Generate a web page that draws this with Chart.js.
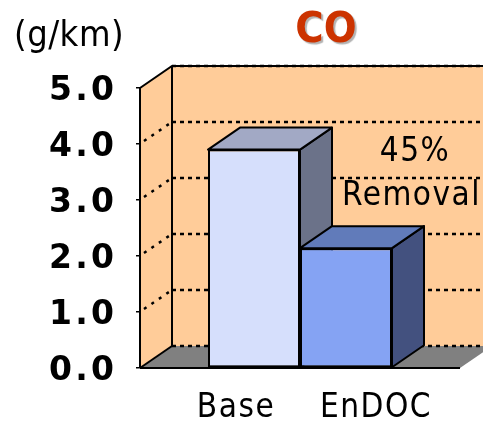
<!DOCTYPE html>
<html>
<head>
<meta charset="utf-8">
<script src="https://cdn.jsdelivr.net/npm/chart.js@4"></script>
<style>
  html, body { margin: 0; padding: 0; background: #ffffff; }
  canvas { display: block; }
</style>
</head>
<body>
<canvas id="chart" width="483" height="421"></canvas>
<script>
// Emission of CO per km, before and after the EnDOC catalyst
const categories = ['CO'];
const seriesNames = ['Base', 'EnDOC'];
const baseValues = [3.9];
const endocValues = [2.14];
const yTickValues = [0, 1, 2, 3, 4, 5];
const unitLabel = '(g/km)';
const titleText = 'CO';
const noteLines = ['45%', 'Removal'];

// Colours: front, top and side faces of each series, walls and floor
const FRONT = ['#D6DFFC', '#85A3F3'];
const TOP = ['#A2A9C5', '#617BBA'];
const SIDE = ['#6B7289', '#43517F'];
const WALL = '#FFCC99';
const FLOOR = '#808080';

const TEXT_FONT = '"DejaVu Sans Condensed", "DejaVu Sans", sans-serif';

// depth of the 3D box (x, y offset of the back plane)
const DX = 32, DY = -22;

function poly(ctx, pts, fill, stroke) {
  ctx.beginPath();
  ctx.moveTo(pts[0][0], pts[0][1]);
  for (let i = 1; i < pts.length; i++) ctx.lineTo(pts[i][0], pts[i][1]);
  ctx.closePath();
  if (fill) { ctx.fillStyle = fill; ctx.fill(); }
  if (stroke) { ctx.strokeStyle = stroke; ctx.stroke(); }
}
function line(ctx, x1, y1, x2, y2) {
  ctx.beginPath(); ctx.moveTo(x1, y1); ctx.lineTo(x2, y2); ctx.stroke();
}
function setSpacing(ctx, px) {
  if ('letterSpacing' in ctx) ctx.letterSpacing = px + 'px';
}

const boxPlugin = {
  id: 'box3d',
  beforeDraw(chart) {
    const { ctx, chartArea: a, scales: { y } } = chart;
    const W = chart.width;
    ctx.save();
    // side wall, back wall and floor
    poly(ctx, [[a.left, a.top], [a.left + DX, a.top + DY], [a.left + DX, a.bottom + DY], [a.left, a.bottom]], WALL);
    ctx.fillStyle = WALL;
    ctx.fillRect(a.left + DX, a.top + DY, W - (a.left + DX), a.bottom - a.top);
    poly(ctx, [[a.left, a.bottom], [a.right, a.bottom], [a.right + DX, a.bottom + DY], [a.left + DX, a.bottom + DY]], FLOOR);

    // dotted gridlines on the walls
    ctx.strokeStyle = '#000';
    ctx.lineWidth = 2.5;
    ctx.setLineDash([4, 4]);
    yTickValues.forEach(v => {
      const py = y.getPixelForValue(v);
      line(ctx, a.left + DX, py + DY, W, py + DY);
    });
    ctx.setLineDash([3, 6]);
    yTickValues.forEach(v => {
      const py = y.getPixelForValue(v);
      if (v > y.min && v < y.max) line(ctx, a.left + 4, py - 3, a.left + DX, py + DY);
    });
    ctx.setLineDash([]);

    // solid edges of the box
    ctx.lineWidth = 2;
    ctx.beginPath();
    ctx.moveTo(a.left, a.top);
    ctx.lineTo(a.left + DX, a.top + DY);
    ctx.lineTo(W, a.top + DY);
    ctx.stroke();
    line(ctx, a.left + DX, a.top + DY, a.left + DX, a.bottom + DY);
    line(ctx, a.left, a.bottom, a.left + DX, a.bottom + DY);
    line(ctx, a.left, a.bottom, a.right, a.bottom);
    ctx.restore();
  },
  beforeDatasetsDraw(chart) {
    const { ctx } = chart;
    ctx.save();
    ctx.lineWidth = 2;
    ctx.lineJoin = 'round';
    chart.data.datasets.forEach((ds, i) => {
      chart.getDatasetMeta(i).data.forEach(bar => {
        const l = bar.x - bar.width / 2, r = bar.x + bar.width / 2;
        const t = bar.y, b = bar.base;
        poly(ctx, [[r, t], [r + DX, t + DY], [r + DX, b + DY], [r, b]], SIDE[i], '#000');
        poly(ctx, [[l, t], [r, t], [r + DX, t + DY], [l + DX, t + DY]], TOP[i], '#000');
      });
    });
    ctx.restore();
  },
  afterDraw(chart) {
    const { ctx } = chart;
    ctx.save();
    ctx.textBaseline = 'alphabetic';
    // title with a soft drop shadow
    ctx.font = 'bold 43px ' + TEXT_FONT;
    ctx.textAlign = 'center';
    ctx.shadowColor = 'rgba(0,0,0,0.3)';
    ctx.shadowOffsetX = 2;
    ctx.shadowOffsetY = 2;
    ctx.shadowBlur = 1;
    ctx.fillStyle = '#CC3300';
    ctx.fillText(titleText, 326, 42);
    ctx.shadowColor = 'transparent';

    ctx.fillStyle = '#000';
    ctx.textAlign = 'left';
    ctx.font = '36px ' + TEXT_FONT;
    setSpacing(ctx, 0.5);
    ctx.fillText(unitLabel, 14, 46);

    // removal note
    setSpacing(ctx, 1.5);
    ctx.font = '33px ' + TEXT_FONT;
    ctx.textAlign = 'center';
    ctx.fillText(noteLines[0], 415, 161);
    ctx.textAlign = 'left';
    ctx.fillText(noteLines[1], 342, 205);

    // series names under the bars
    const shift = [-18, 30];
    ctx.textAlign = 'center';
    ctx.font = '33px ' + TEXT_FONT;
    chart.data.datasets.forEach((ds, i) => {
      const bar = chart.getDatasetMeta(i).data[0];
      ctx.fillText(ds.label, bar.x + shift[i], 417);
    });
    ctx.restore();
  }
};

new Chart(document.getElementById('chart'), {
  type: 'bar',
  data: {
    labels: categories,
    datasets: [
      { label: seriesNames[0], data: baseValues, backgroundColor: FRONT[0] },
      { label: seriesNames[1], data: endocValues, backgroundColor: FRONT[1] }
    ]
  },
  options: {
    responsive: false,
    animation: false,
    devicePixelRatio: 1,
    layout: { padding: { left: 0, top: 88, right: 23, bottom: 53 } },
    datasets: {
      bar: {
        borderColor: '#000',
        borderWidth: 2,
        borderSkipped: false,
        barPercentage: 1,
        categoryPercentage: 0.575
      }
    },
    plugins: {
      legend: { display: false },
      tooltip: { enabled: false },
      title: { display: false }
    },
    scales: {
      x: { display: false },
      y: {
        min: 0,
        max: 5,
        afterFit(scale) { scale.width = 140; },
        border: { display: true, color: '#000', width: 2 },
        grid: {
          drawOnChartArea: false,
          drawTicks: true,
          tickLength: 4,
          color: '#000',
          lineWidth: 1.5
        },
        ticks: {
          stepSize: 0.5,
          padding: 22,
          labelOffset: 3,
          color: '#000',
          font: { family: 'DejaVu Sans', size: 33, weight: 'bold' },
          callback: v => Number.isInteger(v) ? v.toFixed(1).split('').join('\u200A') : ''
        }
      }
    }
  },
  plugins: [boxPlugin]
});
</script>
</body>
</html>
